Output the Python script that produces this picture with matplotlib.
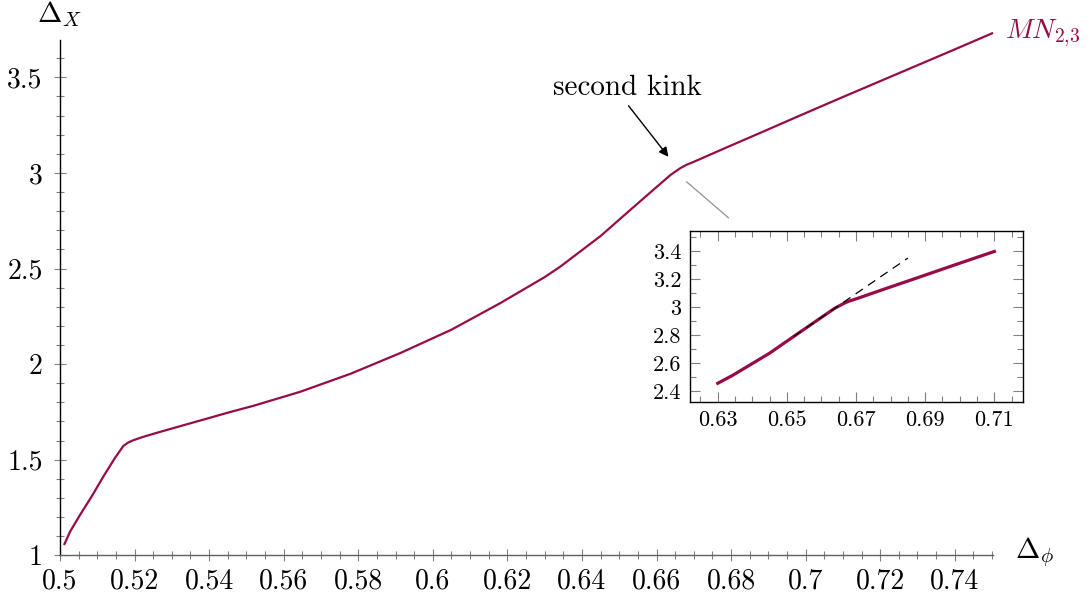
import matplotlib
matplotlib.use('Agg')
import matplotlib.pyplot as plt
from matplotlib.ticker import FixedLocator, MultipleLocator, FixedFormatter

# 폰트: LaTeX 느낌 (Computer Modern)
plt.rcParams['font.family'] = 'serif'
plt.rcParams['font.serif'] = ['cmr10']
plt.rcParams['mathtext.fontset'] = 'cm'
plt.rcParams['axes.formatter.use_mathtext'] = True

# 곡선 데이터
delta_phi = [0.5012, 0.5027, 0.5054, 0.5085, 0.5116, 0.5148, 0.5170, 0.5183,
             0.5197, 0.5219, 0.5255, 0.5327, 0.5389, 0.5452, 0.5519, 0.5644,
             0.5780, 0.5913, 0.6050, 0.6181, 0.6300, 0.6342, 0.6450, 0.6530,
             0.6593, 0.6638, 0.6664, 0.6680, 0.6700, 0.6790, 0.6879, 0.6987,
             0.7100, 0.7200, 0.7300, 0.7400, 0.7500]
delta_x = [1.059, 1.124, 1.212, 1.308, 1.411, 1.511, 1.572, 1.590,
           1.602, 1.617, 1.638, 1.678, 1.712, 1.747, 1.782, 1.855,
           1.950, 2.058, 2.180, 2.319, 2.455, 2.510, 2.670, 2.807,
           2.914, 2.990, 3.025, 3.042, 3.058, 3.135, 3.210, 3.302,
           3.397, 3.480, 3.563, 3.646, 3.730]

# 인셋 범위와 점선 (접선)
inset_lo, inset_hi = 0.63, 0.71
dash_x = [0.652, 0.685]
dash_y = [2.79, 3.35]

# 눈금
x_ticks = [0.5, 0.52, 0.54, 0.56, 0.58, 0.6, 0.62, 0.64, 0.66, 0.68, 0.7, 0.72, 0.74]
x_labels = ['0.5', '0.52', '0.54', '0.56', '0.58', '0.6', '0.62', '0.64', '0.66',
            '0.68', '0.7', '0.72', '0.74']
y_ticks = [1, 1.5, 2, 2.5, 3, 3.5]
y_labels = ['1', '1.5', '2', '2.5', '3', '3.5']
ix_ticks = [0.63, 0.65, 0.67, 0.69, 0.71]
ix_labels = ['0.63', '0.65', '0.67', '0.69', '0.71']
iy_ticks = [2.4, 2.6, 2.8, 3.0, 3.2, 3.4]
iy_labels = ['2.4', '2.6', '2.8', '3', '3.2', '3.4']

col = '#990a48'
tick_col = '#808080'

fig = plt.figure(figsize=(10.91, 6), dpi=100)
ax = fig.add_axes([0.055, 0.0745, 0.855, 0.8588])

ax.plot(delta_phi, delta_x, color=col, lw=1.6, clip_on=False, zorder=3)
ax.set_xlim(0.5, 0.7502)
ax.set_ylim(1, 3.695)

for s in ['top', 'right']:
    ax.spines[s].set_visible(False)
ax.spines['left'].set_color('black')
ax.spines['bottom'].set_color('#606060')
ax.spines['left'].set_linewidth(1.0)
ax.spines['bottom'].set_linewidth(1.0)

ax.xaxis.set_major_locator(FixedLocator(x_ticks))
ax.xaxis.set_major_formatter(FixedFormatter(x_labels))
ax.xaxis.set_minor_locator(MultipleLocator(0.005))
ax.yaxis.set_major_locator(FixedLocator(y_ticks))
ax.yaxis.set_major_formatter(FixedFormatter(y_labels))
ax.yaxis.set_minor_locator(MultipleLocator(0.1))
ax.tick_params(which='major', direction='inout', length=9, width=0.8,
               color=tick_col, labelsize=20)
ax.tick_params(which='minor', direction='inout', length=6, width=0.8,
               color=tick_col)
ax.tick_params(axis='x', which='major', pad=5)
ax.tick_params(axis='y', which='major', pad=8)

# 축 이름
fig.text(59 / 1091, 1 - 14 / 600, r'$\Delta_X$', fontsize=21,
         ha='center', va='center')
fig.text(1035 / 1091, 1 - 552 / 600, r'$\Delta_\phi$', fontsize=21,
         ha='center', va='center')

# 곡선 이름
ax.annotate(r'$MN_{2,\!3}$', xy=(delta_phi[-1], delta_x[-1]),
            xytext=(9, 0), textcoords='offset points', color=col,
            fontsize=20, ha='left', va='center', annotation_clip=False)

# 두 번째 꺾임 표시
ax.text(0.6522, 3.445, 'second kink', fontsize=21, ha='center', va='center')
ax.annotate('', xy=(0.6632, 3.084), xytext=(0.6525, 3.351),
            arrowprops=dict(arrowstyle='-|>', color='black', lw=1.0,
                            mutation_scale=14, shrinkA=0, shrinkB=0))

# 인셋 연결선
ax.plot([0.6681, 0.6793], [2.953, 2.765], color='#909090', lw=0.9)

# 인셋 (0.63 ~ 0.71 구간만)
sub_x = [p for p in delta_phi if inset_lo <= p <= inset_hi]
sub_y = [v for p, v in zip(delta_phi, delta_x) if inset_lo <= p <= inset_hi]

ins = fig.add_axes([0.6322, 0.3295, 0.3052, 0.2855])
ins.plot(sub_x, sub_y, color=col, lw=2.3, zorder=2)
ins.plot(dash_x, dash_y, color='black', lw=0.9, ls=(0, (7, 5)), zorder=3)
ins.set_xlim(0.6219, 0.7182)
ins.set_ylim(2.319, 3.543)
ins.xaxis.set_major_locator(FixedLocator(ix_ticks))
ins.xaxis.set_major_formatter(FixedFormatter(ix_labels))
ins.xaxis.set_minor_locator(MultipleLocator(0.005))
ins.yaxis.set_major_locator(FixedLocator(iy_ticks))
ins.yaxis.set_major_formatter(FixedFormatter(iy_labels))
ins.yaxis.set_minor_locator(MultipleLocator(0.1))
ins.tick_params(which='both', direction='in', top=True, right=True,
                color=tick_col, width=0.8)
ins.tick_params(which='major', length=7, labelsize=16, pad=6)
ins.tick_params(which='minor', length=4)
for s in ins.spines.values():
    s.set_linewidth(1.0)

fig.savefig('out.png', dpi=100)
